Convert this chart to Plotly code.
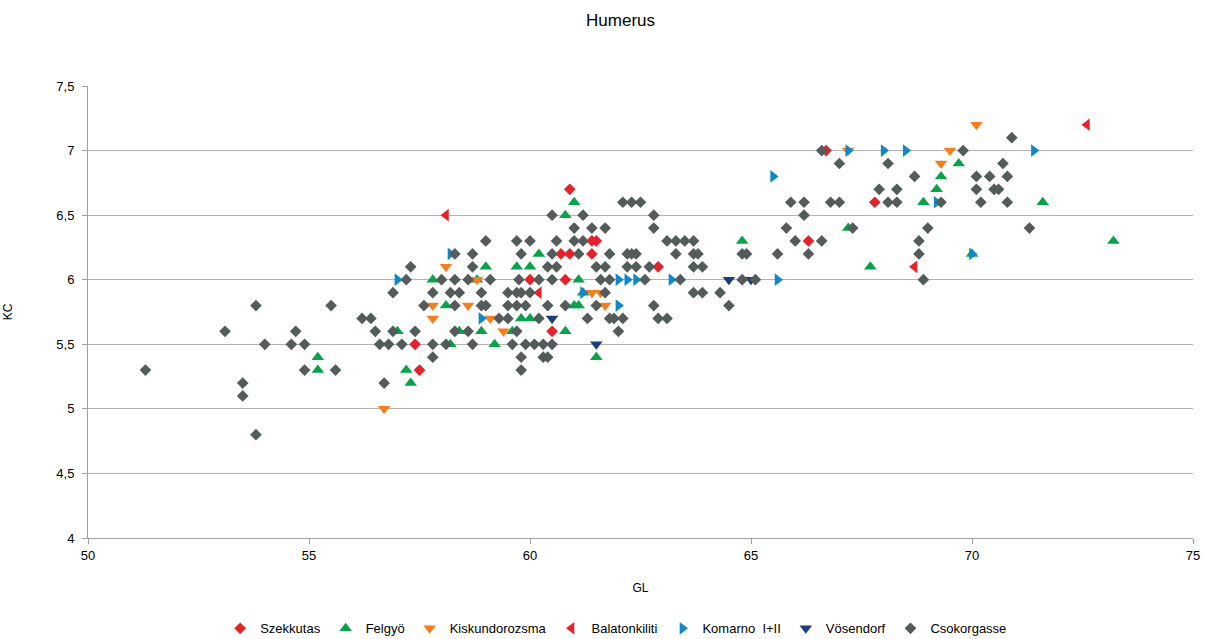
import plotly.graph_objects as go

# ---- data ----
szek_x = [57.4, 57.5, 60.9, 60.7, 60.9, 61.4, 61.4, 61.5, 62.9, 60.0, 60.8, 60.5, 66.7, 67.8, 66.3]
szek_y = [5.5, 5.3, 6.7, 6.2, 6.2, 6.2, 6.3, 6.3, 6.1, 6.0, 6.0, 5.6, 7.0, 6.6, 6.3]

felg_x = [55.2, 55.2, 57.8, 58.8, 59.0, 59.7, 60.0, 58.1, 57.0, 58.4, 58.9, 59.6, 59.2, 57.2, 57.3,
          61.0, 60.8, 60.2, 61.1, 61.2, 61.0, 61.1, 59.8, 60.0, 60.8, 61.5, 64.8, 67.2, 67.7,
          69.7, 69.3, 69.2, 68.9, 71.6, 73.2, 70.0, 58.2]
felg_y = [5.4, 5.3, 6.0, 6.0, 6.1, 6.1, 6.1, 5.8, 5.6, 5.6, 5.6, 5.6, 5.5, 5.3, 5.2,
          6.6, 6.5, 6.2, 6.0, 5.9, 5.8, 5.8, 5.7, 5.7, 5.6, 5.4, 6.3, 6.4, 6.1,
          6.9, 6.8, 6.7, 6.6, 6.6, 6.3, 6.2, 5.5]

kisk_x = [58.1, 58.8, 57.8, 58.6, 57.8, 59.1, 59.4, 56.7, 61.4, 61.6, 61.7, 67.2, 70.1, 69.5, 69.3]
kisk_y = [6.1, 6.0, 5.8, 5.8, 5.7, 5.7, 5.6, 5.0, 5.9, 5.9, 5.8, 7.0, 7.2, 7.0, 6.9]

bala_x = [58.1, 60.2, 72.6, 68.7]
bala_y = [6.5, 5.9, 7.2, 6.1]

koma_x = [57.0, 58.2, 58.9, 61.2, 62.0, 62.2, 62.4, 63.2, 62.0, 65.5, 65.6, 67.2, 68.0, 68.5, 71.4, 69.2, 70.0]
koma_y = [6.0, 6.2, 5.7, 5.9, 6.0, 6.0, 6.0, 6.0, 5.8, 6.8, 6.0, 7.0, 7.0, 7.0, 7.0, 6.6, 6.2]

vose_x = [60.5, 61.5, 64.5, 65.0]
vose_y = [5.7, 5.5, 6.0, 6.0]

csok_x = [51.3, 53.1, 53.5, 53.5, 53.8, 53.8, 54.0, 54.6, 54.7, 54.9, 54.9, 55.5, 55.6, 56.2, 56.4,
          56.5, 56.6, 56.8, 56.7, 56.9, 57.1, 56.9, 57.2, 57.3, 57.4, 57.6, 57.8, 57.8, 57.8, 58.0,
          58.3, 58.6, 59.1, 58.2, 58.4, 58.9, 58.3, 58.9, 59.0, 58.3, 58.6, 58.1, 58.7, 59.0, 58.3,
          58.7, 58.7,
          59.5, 59.7, 59.8, 60.0, 59.5, 59.7, 59.9, 59.3, 59.5, 59.7, 59.7, 59.75, 59.8, 60.0, 60.6,
          60.2, 60.5, 60.4, 60.8, 60.2, 59.6, 59.9, 60.1, 60.3, 60.5, 59.8, 60.3, 60.4, 59.8, 60.5,
          61.2, 61.0, 61.4, 61.7, 61.0, 61.2, 61.1, 61.8, 62.2, 62.3, 62.4, 60.5, 60.4, 60.6, 61.5,
          61.7, 62.2, 62.4, 62.7, 61.6, 61.8, 62.6, 63.4, 61.7, 61.5, 62.8, 61.3, 61.8, 61.9, 62.1,
          62.9, 63.1, 62.0, 62.1, 62.3, 62.5, 62.8, 62.8, 63.1, 63.3, 63.5, 63.7, 63.3, 63.7, 63.8,
          63.7, 63.9, 63.7, 63.9,
          64.3, 64.5, 64.8, 64.9, 64.8, 65.1, 65.6, 65.8, 66.0, 66.6, 66.3, 66.2, 65.9, 66.2, 66.8,
          67.0, 67.3, 66.6, 67.0, 68.1, 67.9, 68.3, 68.1, 68.3, 68.7, 69.3, 69.0, 68.8, 68.8, 68.9,
          69.8, 70.9, 70.7, 70.1, 70.4, 70.8, 70.1, 70.5, 70.6, 70.2, 70.8, 71.3]
csok_y = [5.3, 5.6, 5.2, 5.1, 5.8, 4.8, 5.5, 5.5, 5.6, 5.5, 5.3, 5.8, 5.3, 5.7, 5.7,
          5.6, 5.5, 5.5, 5.2, 5.6, 5.5, 5.9, 6.0, 6.1, 5.6, 5.8, 5.9, 5.5, 5.4, 6.0,
          6.0, 6.0, 6.0, 5.9, 5.9, 5.9, 5.8, 5.8, 5.8, 5.6, 5.6, 5.5, 5.5, 6.3, 6.2,
          6.2, 6.1,
          5.9, 5.9, 5.9, 5.9, 5.8, 5.8, 5.8, 5.7, 5.7, 5.6, 6.3, 6.0, 6.2, 6.3, 6.3,
          6.0, 6.0, 5.8, 5.8, 5.7, 5.5, 5.5, 5.5, 5.5, 5.5, 5.4, 5.4, 5.4, 5.3, 6.5,
          6.5, 6.4, 6.4, 6.4, 6.3, 6.3, 6.2, 6.2, 6.2, 6.2, 6.2, 6.2, 6.1, 6.1, 6.1,
          6.1, 6.1, 6.1, 6.1, 6.0, 6.0, 6.0, 6.0, 5.9, 5.8, 5.8, 5.7, 5.7, 5.7, 5.7,
          5.7, 5.7, 5.6, 6.6, 6.6, 6.6, 6.5, 6.4, 6.3, 6.3, 6.3, 6.3, 6.2, 6.2, 6.2,
          6.1, 6.1, 5.9, 5.9,
          5.9, 5.8, 6.2, 6.2, 6.0, 6.0, 6.2, 6.4, 6.3, 6.3, 6.2, 6.5, 6.6, 6.6, 6.6,
          6.6, 6.4, 7.0, 6.9, 6.9, 6.7, 6.7, 6.6, 6.6, 6.8, 6.6, 6.4, 6.3, 6.2, 6.0,
          7.0, 7.1, 6.9, 6.8, 6.8, 6.8, 6.7, 6.7, 6.7, 6.6, 6.6, 6.4]

y_ticks = [4, 4.5, 5, 5.5, 6, 6.5, 7, 7.5]
y_ticktext = ["4", "4,5", "5", "5,5", "6", "6,5", "7", "7,5"]
x_ticks = [50, 55, 60, 65, 70, 75]

series = [
    ("Szekkutas", szek_x, szek_y, "diamond", "#e3232b", 9),
    ("Felgyö", felg_x, felg_y, "triangle-up", "#0aa14b", 11),
    ("Kiskundorozsma", kisk_x, kisk_y, "triangle-down", "#f47f20", 11),
    ("Balatonkiliti", bala_x, bala_y, "triangle-left", "#e4232a", 11),
    ("Komarno  I+II", koma_x, koma_y, "triangle-right", "#0f88c8", 11),
    ("Vösendorf", vose_x, vose_y, "triangle-down", "#1d3f79", 11),
    ("Csokorgasse", csok_x, csok_y, "diamond", "#545b5b", 9),
]

fig = go.Figure()
for name, xs, ys, sym, col, sz in series:
    fig.add_trace(go.Scatter(
        x=xs, y=ys, mode="markers", name=name,
        marker=dict(symbol=sym, color=col, size=sz, line=dict(width=0)),
    ))

font_family = "Liberation Sans, Arial, sans-serif"
fig.update_layout(
    width=1205, height=639,
    paper_bgcolor="white", plot_bgcolor="white",
    margin=dict(l=88, r=12, t=86, b=101, autoexpand=False),
    title=dict(text="Humerus", x=0.515, xanchor="center", y=1 - 20 / 639, yanchor="middle",
               font=dict(family=font_family, size=17, color="black")),
    font=dict(family=font_family, size=13, color="black"),
    showlegend=True,
    legend=dict(orientation="h", x=0.478, xanchor="center", y=-0.2, yanchor="middle",
                font=dict(family=font_family, size=13, color="black"),
                itemwidth=30, tracegroupgap=0),
)
fig.update_xaxes(
    range=[50, 75], tickvals=x_ticks, showgrid=False, zeroline=False,
    showline=True, linecolor="#a0a0a0", linewidth=1,
    ticks="outside", ticklen=5, tickcolor="#a0a0a0",
    tickfont=dict(size=13, color="black"), automargin=False,
    title=dict(text="GL", font=dict(size=12, color="black"), standoff=22),
)
fig.update_yaxes(
    range=[4, 7.5], tickvals=y_ticks, ticktext=y_ticktext,
    showgrid=True, gridcolor="#b3b3b3", gridwidth=1, zeroline=False,
    showline=True, linecolor="#a0a0a0", linewidth=1,
    ticks="outside", ticklen=5, tickcolor="#a0a0a0", ticklabelstandoff=5,
    tickfont=dict(size=13, color="black"), automargin=False,
    title=dict(text="KC", font=dict(size=12, color="black"), standoff=41),
)

# remove the default 8px page margin so the figure fills the window exactly
fig.write_html("out.html",
               config=dict(displayModeBar=False),
               post_script="document.body.style.margin='0px';document.body.style.overflow='hidden';")
